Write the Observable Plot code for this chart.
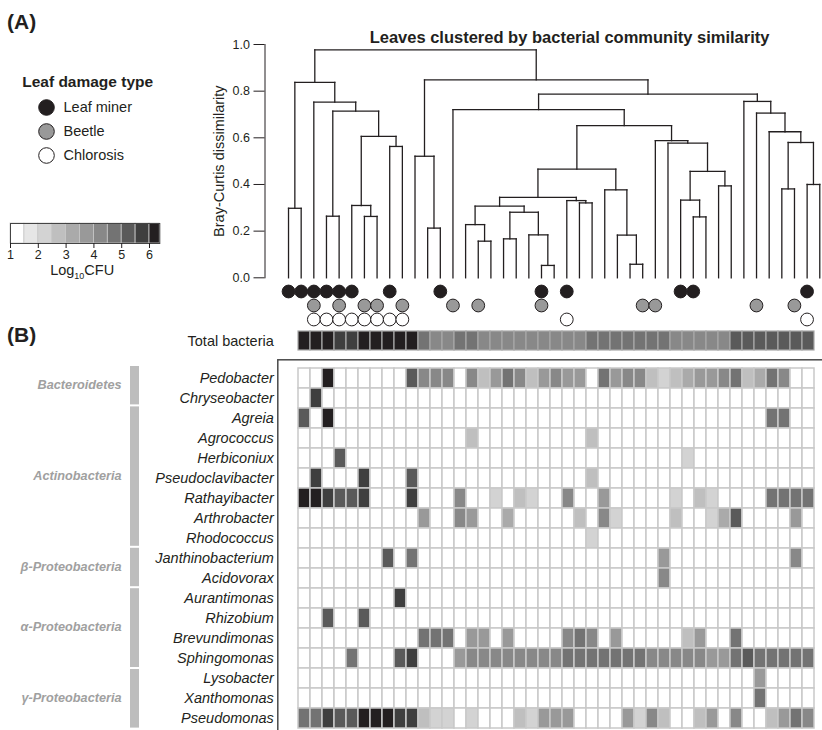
<!DOCTYPE html>
<html><head><meta charset="utf-8">
<script src="https://cdn.jsdelivr.net/npm/d3@7"></script>
<script src="https://cdn.jsdelivr.net/npm/@observablehq/plot@0.6"></script>
<style>
html,body{margin:0;padding:0;background:#fff;overflow:hidden;}
#wrap{position:relative;width:822px;height:730px;overflow:hidden;font-family:"Liberation Sans",Arial,Helvetica,sans-serif;color:#231f20;background:#fff;}
#wrap svg{position:absolute;left:0;max-width:none;background:transparent;overflow:visible;font-family:"Liberation Sans",Arial,Helvetica,sans-serif;color:#231f20;}
.panel{position:absolute;left:7px;font-weight:bold;font-size:21px;line-height:1;}
</style></head><body>
<div id="wrap">
  <div class="panel" style="top:11px">(A)</div>
  <div class="panel" style="top:324px">(B)</div>
</div>
<script>
// ---------- DATA ----------
const title = "Leaves clustered by bacterial community similarity";
const yLabel = "Bray-Curtis dissimilarity";
const yTicks = [0, 0.2, 0.4, 0.6, 0.8, 1.0];
const nLeaves = 43;

// dendrogram merges: [left child, right child, height]; L# = leaf, N# = earlier merge (1-based)
const merges = [
  ["L20","L21",0.053], ["L27","L28",0.058], ["L15","L16",0.157], ["L17","L18",0.167],
  ["L19","N1",0.184],  ["L26","N2",0.183],  ["L11","L12",0.213], ["L14","N3",0.228],
  ["L3","L4",0.264],   ["L6","L7",0.263],   ["L32","L33",0.261], ["L0","L1",0.298],
  ["L5","N10",0.310],  ["N4","N5",0.281],   ["N8","N14",0.307],  ["L23","L24",0.321],
  ["L22","N16",0.331], ["N15","N17",0.345], ["L31","N11",0.333], ["L25","N6",0.377],
  ["L34","L35",0.394], ["L39","L40",0.381], ["L41","L42",0.400], ["N19","N21",0.456],
  ["N18","N20",0.466], ["L10","N7",0.521],  ["L8","L9",0.563],   ["L30","N24",0.577],
  ["N22","N23",0.580], ["L29","N28",0.588], ["N13","N27",0.606], ["L38","N29",0.626],
  ["N25","N30",0.652], ["L37","N32",0.706], ["N9","N31",0.714],  ["L13","N33",0.721],
  ["L2","N35",0.753],  ["L36","N34",0.756], ["N36","N38",0.787], ["N12","N37",0.838],
  ["N26","N39",0.848], ["N40","N41",0.977]
];

// leaf damage type (leaf indices)
const damageTypes = ["Leaf miner", "Beetle", "Chlorosis"];
const damageFills = ["#231f20", "#999999", "#ffffff"];
const leafMiner = [0,1,2,3,4,5,8,12,20,22,31,32,41];
const beetle    = [2,4,6,7,9,13,15,20,28,29,37,40];
const chlorosis = [2,3,4,5,6,7,8,9,22,41];

// colour scale (log10 CFU)
const thresholds = [1.5,2,2.5,3,3.5,4,4.5,5,5.5,6];
const palette = ["#ffffff","#e6e6e6","#d3d3d3","#bfbfbf","#aaaaaa","#999999","#888888","#737373","#5a5a5a","#3f3f3f","#231f20"];
const legendTicks = [1,2,3,4,5,6];
const legendMin = 1, legendMax = 6.37;
const legendLabel = "Log10CFU";

// total bacteria per leaf (log10 CFU)
const totalBacteria = [
  6.2,6.2,6.2,5.7,5.7,6.2,6.2,6.2,6.2,6.2,
  4.9,4.4,4.4,4.9,4.9,4.2,4.4,4.4,4.4,4.4,
  4.2,4.4,4.4,4.4,4.5,4.9,4.9,4.9,4.9,4.5,
  4.5,4.2,4.2,4.2,4.2,4.2,5.3,5.3,5.1,5.3,
  5.1,5.3,5.1
];

// taxa (log10 CFU per leaf; 0 = not detected)
const taxa = ["Pedobacter","Chryseobacter","Agreia","Agrococcus","Herbiconiux","Pseudoclavibacter",
  "Rathayibacter","Arthrobacter","Rhodococcus","Janthinobacterium","Acidovorax","Aurantimonas",
  "Rhizobium","Brevundimonas","Sphingomonas","Lysobacter","Xanthomonas","Pseudomonas"];
const groupNames = ["Bacteroidetes","Actinobacteria","β-Proteobacteria","α-Proteobacteria","γ-Proteobacteria"];
const groupSizes = [2, 7, 2, 4, 3];

const pedobacter = [
  0,0,6.2,0,0,0,0,0,0,5.3,
  4.0,4.0,4.0,0,4.0,2.8,3.6,4.6,4.0,2.8,
  3.8,4.0,3.7,3.7,0,4.6,3.7,4.2,4.0,2.9,
  2.3,2.8,3.4,3.6,3.6,4.0,4.9,2.8,3.4,4.5,
  4.0,0,0];
const chryseobacter = [
  0,5.7,0,0,0,0,0,0,0,0,
  0,0,0,0,0,0,0,0,0,0,
  0,0,0,0,0,0,0,0,0,0,
  0,0,0,0,0,0,0,0,0,0,
  0,0,0];
const agreia = [
  5.2,0,6.2,0,0,0,0,0,0,0,
  0,0,0,0,0,0,0,0,0,0,
  0,0,0,0,0,0,0,0,0,0,
  0,0,0,0,0,0,0,0,0,4.9,
  4.5,0,0];
const agrococcus = [
  0,0,0,0,0,0,0,0,0,0,
  0,0,0,0,2.9,0,0,0,0,0,
  0,0,0,0,2.8,0,0,0,0,0,
  0,0,0,0,0,0,0,0,0,0,
  0,0,0];
const herbiconiux = [
  0,0,0,5.3,0,0,0,0,0,0,
  0,0,0,0,0,0,0,0,0,0,
  0,0,0,0,0,0,0,0,0,0,
  0,0,2.3,0,0,0,0,0,0,0,
  0,0,0];
const pseudoclavibacter = [
  0,5.7,0,0,0,5.7,0,0,0,5.3,
  0,0,0,0,0,0,0,0,0,0,
  0,0,0,0,2.9,0,0,0,0,0,
  0,0,0,0,0,0,0,0,0,0,
  0,0,0];
const rathayibacter = [
  6.2,6.2,5.7,5.3,5.3,5.7,0,0,0,5.7,
  0,0,0,4.4,0,0,2.3,0,2.8,2.3,
  0,0,4.0,0,0,3.5,0,0,0,0,
  0,2.3,0,2.8,2.3,0,0,0,0,4.5,
  4.5,4.9,4.5];
const arthrobacter = [
  0,0,0,0,0,0,0,0,0,0,
  3.8,0,0,4.4,3.5,0,0,3.4,0,0,
  0,0,0,2.8,0,4.2,2.3,0,0,0,
  0,2.8,0,0,2.3,3.2,5.3,0,0,0,
  0,3.5,0];
const rhodococcus = [
  0,0,0,0,0,0,0,0,0,0,
  0,0,0,0,0,0,0,0,0,0,
  0,0,0,0,2.3,0,0,0,0,0,
  0,0,0,0,0,0,0,0,0,0,
  0,0,0];
const janthinobacterium = [
  0,0,0,0,0,0,0,5.3,0,4.9,
  0,0,0,0,0,0,0,0,0,0,
  0,0,0,0,0,0,0,0,0,0,
  3.5,0,0,0,0,0,0,0,0,0,
  0,4.0,0];
const acidovorax = [
  0,0,0,0,0,0,0,0,0,0,
  0,0,0,0,0,0,0,0,0,0,
  0,0,0,0,0,0,0,0,0,0,
  4.0,0,0,0,0,0,0,0,0,0,
  0,0,0];
const aurantimonas = [
  0,0,0,0,0,0,0,0,5.7,0,
  0,0,0,0,0,0,0,0,0,0,
  0,0,0,0,0,0,0,0,0,0,
  0,0,0,0,0,0,0,0,0,0,
  0,0,0];
const rhizobium = [
  0,0,5.3,0,0,5.3,0,0,0,0,
  0,0,0,0,0,0,0,0,0,0,
  0,0,0,0,0,0,0,0,0,0,
  0,0,0,0,0,0,0,0,0,0,
  0,0,0];
const brevundimonas = [
  0,0,0,0,0,0,0,0,0,0,
  4.9,4.5,4.5,0,3.8,3.8,0,3.8,0,0,
  0,0,4.0,4.5,4.2,0,3.7,0,0,0,
  0,0,2.8,3.5,0,0,4.5,0,0,0,
  0,0,0];
const sphingomonas = [
  0,0,0,0,4.9,0,0,0,5.3,5.7,
  0,0,0,3.9,4.2,4.3,4.3,4.3,4.4,4.3,
  4.3,4.3,4.5,4.5,4.5,4.6,4.5,4.9,4.9,4.2,
  4.2,4.2,4.2,4.2,3.8,3.8,4.9,5.3,4.9,4.9,
  4.6,4.9,4.9];
const lysobacter = [
  0,0,0,0,0,0,0,0,0,0,
  0,0,0,0,0,0,0,0,0,0,
  0,0,0,0,0,0,0,0,0,0,
  0,0,0,0,0,0,0,0,3.5,0,
  0,0,0];
const xanthomonas = [
  0,0,0,0,0,0,0,0,0,0,
  0,0,0,0,0,0,0,0,0,0,
  0,0,0,0,0,0,0,0,0,0,
  0,0,0,0,0,0,0,0,4.9,0,
  0,0,0];
const pseudomonas = [
  4.9,4.9,5.7,5.3,5.3,6.2,6.2,6.2,5.7,5.7,
  2.8,2.3,2.3,0,2.3,0,0,0,2.8,2.3,
  3.5,3.5,3.5,0,0,0,0,3.5,2.3,4.0,
  2.8,0,0,2.8,3.5,0,4.0,0,0,2.8,
  3.5,4.9,4.3];

const taxaValues = [pedobacter, chryseobacter, agreia, agrococcus, herbiconiux, pseudoclavibacter,
  rathayibacter, arthrobacter, rhodococcus, janthinobacterium, acidovorax, aurantimonas,
  rhizobium, brevundimonas, sphingomonas, lysobacter, xanthomonas, pseudomonas];

// ---------- DERIVED TABLES ----------
const cols = d3.range(nLeaves);
const pos = {};
cols.forEach(i => pos["L" + i] = {x: i, h: 0});
const segs = [];
merges.forEach(([a, b, h], k) => {
  const A = pos[a], B = pos[b];
  segs.push({x1: A.x, y1: A.h, x2: A.x, y2: h});
  segs.push({x1: B.x, y1: B.h, x2: B.x, y2: h});
  segs.push({x1: A.x, y1: h, x2: B.x, y2: h});
  pos["N" + (k + 1)] = {x: (A.x + B.x) / 2, h};
});
const damage = [
  ...leafMiner.map(leaf => ({leaf, type: damageTypes[0]})),
  ...beetle.map(leaf => ({leaf, type: damageTypes[1]})),
  ...chlorosis.map(leaf => ({leaf, type: damageTypes[2]}))
];
const totalCells = totalBacteria.map((v, col) => ({col, row: "Total bacteria", v}));
const heatCells = taxa.flatMap((t, r) => taxaValues[r].map((v, col) => ({col, taxon: t, v})));
let acc = 0;
const groups = groupNames.map((name, i) => { const g = {name, start: acc, end: acc + groupSizes[i]}; acc += groupSizes[i]; return g; });
const legendEdges = [legendMin, ...thresholds, legendMax];
const legendBlocks = legendEdges.slice(0, -1).map((x1, i) => ({x1, x2: legendEdges[i + 1]}));
const colorScale = {type: "threshold", domain: thresholds, range: palette};

// ---------- LAYOUT ----------
const wrap = document.getElementById("wrap");
function add(svg, top) { svg.style.top = top + "px"; wrap.appendChild(svg); return svg; }
const ink = "#231f20";
const leafX = {domain: [-0.5, nLeaves - 0.5], range: [281.7, 825.6], axis: null};

// dendrogram
add(Plot.plot({
  width: 830, height: 285,
  marginTop: 44, marginBottom: 7.7, marginLeft: 264.5, marginRight: 4.4,
  x: leafX,
  y: {domain: [0, 1], axis: null},
  marks: [
    Plot.frame({anchor: "left", stroke: ink, strokeWidth: 1}),
    Plot.axisY({ticks: yTicks, tickFormat: d3.format(".1f"), tickSize: 11, tickPadding: 4, fontSize: 12.5, label: null}),
    Plot.link(segs, {x1: "x1", y1: "y1", x2: "x2", y2: "y2", stroke: ink, strokeWidth: 1.3, strokeLinecap: "square"}),
    Plot.text([title], {text: d => d, frameAnchor: "top", dx: 24, dy: -13, fontSize: 16.5, fontWeight: "bold", fill: ink}),
    Plot.text([yLabel], {text: d => d, frameAnchor: "left", textAnchor: "middle", dx: -45.5, rotate: -90, fontSize: 14.5, fill: ink})
  ]
}), 0);

// damage dots under leaves
add(Plot.plot({
  width: 830, height: 44.4, margin: 0,
  x: leafX,
  y: {type: "band", domain: damageTypes, padding: 0, axis: null},
  color: {type: "ordinal", domain: damageTypes, range: damageFills},
  marks: [
    Plot.dot(damage, {x: "leaf", y: "type", r: 6.4, fill: "type", stroke: ink, strokeWidth: 1})
  ]
}), 282.6);

// damage legend
add(Plot.plot({
  width: 200, height: 120,
  marginTop: 33.75, marginBottom: 12.75, marginLeft: 46, marginRight: 10,
  y: {type: "band", domain: damageTypes, padding: 0, axis: null},
  color: {type: "ordinal", domain: damageTypes, range: damageFills},
  marks: [
    Plot.dot(damageTypes, {y: d => d, fill: d => d, frameAnchor: "left", r: 7.8, stroke: ink, strokeWidth: 1}),
    Plot.text(damageTypes, {y: d => d, text: d => d, frameAnchor: "left", dx: 17, textAnchor: "start", fontSize: 14.5, fill: ink}),
    Plot.text(["Leaf damage type"], {text: d => d, frameAnchor: "top-left", dx: -24.3, dy: -18.75, textAnchor: "start", fontSize: 15.5, fontWeight: "bold", fill: ink})
  ]
}), 60);

// colour legend
const leg = add(Plot.plot({
  width: 170, height: 70,
  marginTop: 8, marginBottom: 42, marginLeft: 10, marginRight: 10.7,
  x: {domain: [legendMin, legendMax]},
  color: colorScale,
  marks: [
    Plot.rect(legendBlocks, {x1: "x1", x2: "x2", fill: "x1", stroke: "#c8c8c8", strokeWidth: 0.8}),
    Plot.frame({stroke: "#444", strokeWidth: 1}),
    Plot.axisX({ticks: legendTicks, tickFormat: d3.format("d"), tickSize: 5, tickPadding: 2, fontSize: 12.5, label: null}),
    Plot.text([legendLabel], {text: d => d, frameAnchor: "bottom", dx: -3, dy: 31, fontSize: 14.5, fill: ink})
  ]
}), 215);
d3.select(leg).selectAll("text").filter(function () { return this.textContent === legendLabel; })
  .each(function () {
    const t = d3.select(this).text(null);
    t.append("tspan").text("Log");
    t.append("tspan").attr("dy", 4).attr("font-size", 9).text("10");
    t.append("tspan").attr("dy", -4).text("CFU");
  });

// total bacteria row
add(Plot.plot({
  width: 830, height: 19,
  marginTop: 0, marginBottom: 0, marginLeft: 283.3, marginRight: 1.9,
  x: {type: "band", domain: cols, padding: 0, axis: null},
  y: {domain: ["Total bacteria"], padding: 0},
  color: colorScale,
  marks: [
    Plot.cell(totalCells, {x: "col", y: "row", fill: "v", stroke: "#a8a8a8", strokeWidth: 1.2, inset: 0}),
    Plot.axisY({tickSize: 0, tickPadding: 10, fontSize: 14.5, label: null, fill: ink})
  ]
}), 331);

// taxon heatmap
add(Plot.plot({
  width: 830, height: 375,
  marginTop: 11, marginBottom: 0.4, marginLeft: 283.3, marginRight: 1.9,
  x: {type: "band", domain: cols, padding: 0, axis: null},
  y: {domain: taxa, padding: 0},
  color: colorScale,
  marks: [
    Plot.cell(heatCells, {x: "col", y: "taxon", fill: "v", stroke: "#c9c9c9", strokeWidth: 1.5, inset: 0}),
    Plot.frame({stroke: "#4a4a4a", strokeWidth: 1.5, insetLeft: -6, insetTop: -6.7, insetRight: -30, insetBottom: -30}),
    Plot.axisY({tickSize: 0, tickPadding: 10, fontSize: 14.5, fontStyle: "italic", label: null, fill: ink})
  ]
}), 355);

// phylum groups
add(Plot.plot({
  width: 140, height: 375,
  marginTop: 11, marginBottom: 0.4, marginLeft: 130, marginRight: 1,
  y: {domain: [0, taxa.length], reverse: true, axis: null},
  marks: [
    Plot.rect(groups, {y1: "start", y2: "end", insetBottom: 2, fill: "#bdbdbd"}),
    Plot.text(groups, {y: d => (d.start + d.end) / 2, text: "name", frameAnchor: "left", dx: -9, dy: -2,
      textAnchor: "end", fontSize: 12.7, fontWeight: "bold", fontStyle: "italic", fill: "#a0a0a0"})
  ]
}), 355);
</script>
</body></html>
